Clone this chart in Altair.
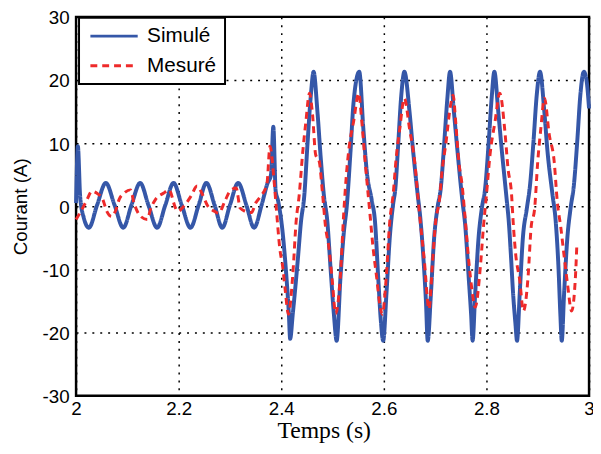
import altair as alt
import pandas as pd

# ---- data ----
blue_t = [2.000, 2.0035, 2.008, 2.015, 2.025, 2.041, 2.058, 2.075, 2.092, 2.108,
          2.125, 2.141, 2.158, 2.174, 2.190, 2.206, 2.223, 2.239, 2.254, 2.270,
          2.285, 2.300, 2.316, 2.332, 2.347, 2.362, 2.373, 2.380, 2.3845, 2.389,
          2.394, 2.403, 2.4096, 2.4148, 2.4173, 2.4225, 2.432, 2.4385, 2.445, 2.451,
          2.4577, 2.463, 2.4705, 2.477, 2.483, 2.4898, 2.496, 2.5025, 2.508, 2.5154,
          2.5217, 2.528, 2.5346, 2.541, 2.552, 2.560, 2.5667, 2.5763, 2.5827, 2.589,
          2.594, 2.5987, 2.605, 2.6115, 2.618, 2.6225, 2.6275, 2.634, 2.640, 2.650,
          2.6565, 2.666, 2.671, 2.6775, 2.682, 2.6855, 2.6917, 2.698, 2.7044, 2.711,
          2.717, 2.7237, 2.729, 2.7365, 2.743, 2.7525, 2.759, 2.7654, 2.770, 2.773,
          2.778, 2.7846, 2.791, 2.7975, 2.804, 2.810, 2.8154, 2.823, 2.8295, 2.8395,
          2.8435, 2.8475, 2.852, 2.8565, 2.8596, 2.8648, 2.871, 2.8788, 2.885, 2.8917,
          2.898, 2.9044, 2.9128, 2.919, 2.9288, 2.935, 2.9404, 2.944, 2.9468, 2.9513,
          2.9577, 2.964, 2.9705, 2.977, 2.983, 2.9898, 2.995, 3.000]
blue_v = [0.5, 9.5, 1.5, -1.8, -3.4, 0.2, 3.7, 0.2, -3.4, 0.2,
          3.7, 0.2, -3.4, 0.2, 3.7, 0.2, -3.4, 0.2, 3.7, 0.2,
          -3.4, 0.2, 3.7, 0.2, -3.4, 0.3, 3.6, 5.0, 12.6, 2.5,
          0.8, -4.4, -10.7, -17.0, -21.0, -17.0, -8.7, -2.4, 1.8, 9.7,
          17.6, 21.3, 15.0, 7.6, 1.8, -2.4, -9.7, -17.0, -21.3, -11.3,
          -4.4, 0.3, 8.2, 16.5, 21.3, 12.3, 5.5, 1.0, -2.4, -11.3,
          -18.0, -21.3, -13.9, -5.0, 0.3, 2.9, 9.2, 17.6, 21.3, 15.0,
          9.2, 1.8, -1.8, -8.7, -15.0, -21.3, -13.9, -5.0, -0.3, 2.9,
          9.2, 17.0, 21.3, 15.0, 9.2, 1.3, -3.4, -11.3, -17.0, -21.3,
          -13.9, -5.0, -0.3, 2.9, 9.7, 17.0, 21.3, 15.0, 9.2, 1.0,
          -2.4, -7.5, -13.9, -18.6, -21.3, -13.9, -5.0, -0.3, 3.4, 10.3,
          17.6, 21.3, 15.0, 8.7, 1.8, -2.4, -9.7, -17.0, -21.3, -13.9,
          -5.0, -0.3, 3.4, 10.3, 17.6, 21.3, 20.0, 15.5]

red_t = [2.000, 2.008, 2.020, 2.031, 2.040, 2.052, 2.060, 2.069, 2.078, 2.084,
         2.094, 2.106, 2.113, 2.126, 2.139, 2.145, 2.155, 2.171, 2.181, 2.194,
         2.198, 2.210, 2.224, 2.236, 2.245, 2.257, 2.270, 2.278, 2.290, 2.300,
         2.312, 2.320, 2.330, 2.342, 2.350, 2.360, 2.372, 2.378, 2.386, 2.391,
         2.397, 2.403, 2.408, 2.414, 2.4225, 2.429, 2.435, 2.442, 2.448, 2.455,
         2.461, 2.467, 2.474, 2.480, 2.4865, 2.493, 2.4994, 2.506, 2.515, 2.522,
         2.528, 2.533, 2.541, 2.551, 2.557, 2.5635, 2.573, 2.579, 2.586, 2.592,
         2.597, 2.605, 2.6115, 2.618, 2.624, 2.631, 2.640, 2.650, 2.660, 2.669,
         2.679, 2.688, 2.695, 2.701, 2.708, 2.714, 2.7205, 2.730, 2.735, 2.740,
         2.746, 2.7525, 2.759, 2.765, 2.772, 2.778, 2.788, 2.794, 2.800, 2.807,
         2.8167, 2.826, 2.836, 2.842, 2.849, 2.852, 2.857, 2.865, 2.872, 2.881,
         2.887, 2.894, 2.900, 2.906, 2.913, 2.9225, 2.932, 2.938, 2.945, 2.951,
         2.958, 2.966, 2.9737, 2.976]
red_v = [-2.1, -1.0, 0.8, 2.4, 2.1, 1.1, -0.8, -1.6, -0.5, 1.1,
         2.1, 2.6, 0.5, -1.6, -2.1, -0.5, 1.1, 2.1, 2.6, -0.3,
         -0.8, 0.0, 1.6, 3.2, 2.1, 0.0, -0.8, -1.1, 0.8, 2.4,
         2.9, -0.3, -0.8, -1.0, 0.5, 1.6, 3.5, 9.5, 4.0, -1.0,
         -6.6, -9.7, -13.5, -17.1, -10.8, -2.4, 1.8, 8.7, 13.4, 17.9,
         14.5, 8.2, 7.1, 2.4, -3.4, -6.6, -11.8, -17.0, -11.3, -0.8,
         6.0, 9.8, 13.4, 17.9, 13.4, 7.1, -1.3, -6.6, -11.3, -15.5,
         -17.1, -10.8, -2.4, 1.8, 7.6, 12.3, 17.1, 12.3, 7.1, -0.8,
         -8.7, -16.3, -8.7, -2.4, 0.8, 6.0, 9.7, 16.0, 17.6, 13.4,
         7.1, 3.4, -2.4, -8.2, -13.4, -16.0, -9.7, -3.4, 1.8, 8.2,
         13.4, 17.9, 11.8, 6.0, 1.8, -2.4, -7.6, -11.8, -16.6, -11.3,
         -3.4, -0.3, 7.1, 12.3, 17.1, 11.3, 7.1, 0.8, -3.4, -7.6,
         -12.3, -16.6, -10.8, -6.5]

series_names = ["Simulé", "Mesuré"]
series_colors = ["#3557A8", "#EE2A2A"]
series_dash = [[1, 0], [7, 5]]
x_ticks = [2, 2.2, 2.4, 2.6, 2.8, 3]
y_ticks = [-30, -20, -10, 0, 10, 20, 30]

df = pd.concat([
    pd.DataFrame({"t": blue_t, "v": blue_v, "s": series_names[0]}),
    pd.DataFrame({"t": red_t, "v": red_v, "s": series_names[1]}),
], ignore_index=True)

x_enc = alt.X("t:Q",
              scale=alt.Scale(domain=[2, 3], nice=False, zero=False),
              axis=alt.Axis(values=x_ticks, title="Temps (s)",
                            labelExpr="'' + datum.value", labelFlush=False,
                            titleFont="Liberation Serif", titleFontSize=24,
                            titleX=251, titleY=42, titleAlign="center",
                            titleBaseline="alphabetic", labelPadding=4))
y_enc = alt.Y("v:Q",
              scale=alt.Scale(domain=[-30, 30], nice=False),
              axis=alt.Axis(values=y_ticks, title="Courant (A)",
                            labelExpr="'' + datum.value", labelFlush=False,
                            labelOffset=1,
                            titleFont="Liberation Sans", titleFontSize=19,
                            titlePadding=12, labelPadding=7))
color_enc = alt.Color("s:N", scale=alt.Scale(domain=series_names, range=series_colors),
                      legend=alt.Legend(title=None))
dash_enc = alt.StrokeDash("s:N", scale=alt.Scale(domain=series_names, range=series_dash),
                          legend=alt.Legend(title=None))

base = alt.Chart(df).encode(x=x_enc, y=y_enc, color=color_enc, strokeDash=dash_enc)

blue = base.transform_filter(alt.datum.s == series_names[0]).mark_line(
    strokeWidth=4, interpolate="monotone")
red = base.transform_filter(alt.datum.s == series_names[1]).mark_line(
    strokeWidth=3, interpolate="monotone")

chart = (blue + red).properties(
    width=520, height=384,
    autosize="none",
    padding={"left": 69, "top": 6, "right": 4, "bottom": 48},
    background="white",
).configure_view(
    stroke="black", strokeWidth=2.5
).configure_axis(
    grid=True, gridColor="black", gridDash=[2, 6], gridWidth=1.5, gridOpacity=1,
    domain=False, ticks=False,
    labelFont="Liberation Sans", labelFontSize=19, labelColor="black",
    titleColor="black", titleFontWeight="normal",
).configure_legend(
    orient="none", legendX=3, legendY=1,
    fillColor="white", strokeColor="black", strokeWidth=2,
    padding=8, cornerRadius=0, clipHeight=21,
    symbolType="stroke", symbolSize=2300, symbolStrokeWidth=3, symbolOffset=2,
    labelFont="Liberation Sans", labelFontSize=21, labelColor="black",
    labelOffset=8, rowPadding=8,
)

chart.save("out.html", embed_options={"renderer": "svg", "actions": False})
